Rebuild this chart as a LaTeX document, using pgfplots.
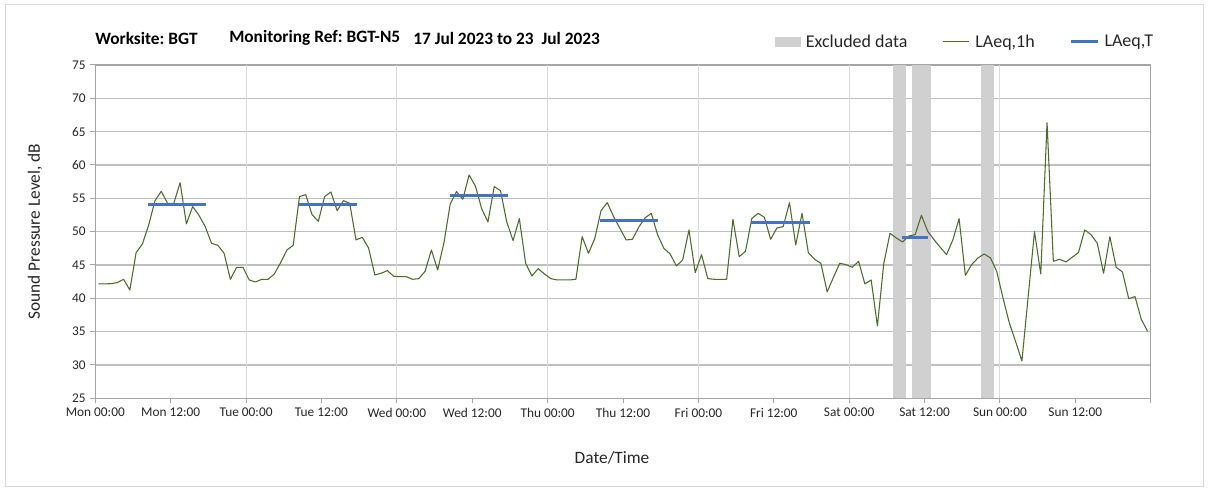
\documentclass[border=0pt]{standalone}
\usepackage{fontspec}
\setmainfont{Carlito}
\usepackage{pgfplots}
\pgfplotsset{compat=1.18}
\usepackage{pgfplotstable}
\definecolor{lineG}{HTML}{4F6A2D}
\definecolor{blueT}{HTML}{4472C4}
\definecolor{excl}{HTML}{D0D0D0}
\definecolor{gridH}{HTML}{BFBFBF}
\definecolor{gridV}{HTML}{D9D9D9}
\definecolor{axisC}{HTML}{A6A6A6}
\definecolor{txt}{HTML}{262626}

\pgfplotstableread{
h dB
0.5 42.15
1.5 42.15
2.5 42.2
3.5 42.35
4.5 42.85
5.5 41.25
6.5 46.85
7.5 48.15
8.5 51.0
9.5 54.65
10.5 56.05
11.5 54.25
12.5 54.25
13.5 57.35
14.5 51.15
15.5 53.75
16.5 52.45
17.5 50.75
18.5 48.25
19.5 47.95
20.5 46.75
21.5 42.85
22.5 44.65
23.5 44.65
24.5 42.75
25.5 42.45
26.5 42.85
27.5 42.85
28.5 43.65
29.5 45.35
30.5 47.25
31.5 47.95
32.5 55.25
33.5 55.55
34.5 52.55
35.5 51.55
36.5 55.25
37.5 55.95
38.5 53.15
39.5 54.65
40.5 54.25
41.5 48.75
42.5 49.15
43.5 47.55
44.5 43.5
45.5 43.75
46.5 44.15
47.5 43.3
48.5 43.25
49.5 43.25
50.5 42.85
51.5 42.95
52.5 44.05
53.5 47.25
54.5 44.25
55.5 48.35
56.5 54.15
57.5 56.0
58.5 54.85
59.5 58.5
60.5 56.85
61.5 53.45
62.5 51.45
63.5 56.75
64.5 56.15
65.5 51.45
66.5 48.65
67.5 51.95
68.5 45.25
69.5 43.35
70.5 44.45
71.5 43.65
72.5 42.95
73.5 42.75
74.5 42.75
75.5 42.75
76.5 42.85
77.5 49.25
78.5 46.75
79.5 48.95
80.5 53.15
81.5 54.35
82.5 52.25
83.5 50.5
84.5 48.75
85.5 48.85
86.5 50.65
87.5 52.05
88.5 52.75
89.5 49.55
90.5 47.5
91.5 46.65
92.5 44.85
93.5 45.75
94.5 50.25
95.5 43.85
96.5 46.55
97.5 42.95
98.5 42.85
99.5 42.85
100.5 42.85
101.5 51.85
102.5 46.25
103.5 47.05
104.5 51.95
105.5 52.75
106.5 52.15
107.5 48.85
108.5 50.55
109.5 50.75
110.5 54.35
111.5 48.0
112.5 52.75
113.5 46.85
114.5 45.85
115.5 45.25
116.5 40.95
117.5 43.15
118.5 45.25
119.5 45.05
120.5 44.65
121.5 45.55
122.5 42.15
123.5 42.75
124.5 35.85
125.5 45.15
126.5 49.75
127.5 49.05
128.5 48.45
129.5 49.35
130.5 49.55
131.5 52.45
132.5 50.05
133.5 48.8
134.5 47.65
135.5 46.55
136.5 48.75
137.5 51.95
138.5 43.45
139.5 45.05
140.5 46.05
141.5 46.65
142.5 46.05
143.5 44.0
144.5 40.0
145.5 36.3
146.5 33.5
147.5 30.6
148.5 40.3
149.5 50.0
150.5 43.65
151.5 66.35
152.5 45.55
153.5 45.85
154.5 45.45
155.5 46.15
156.5 46.85
157.5 50.25
158.5 49.55
159.5 48.25
160.5 43.75
161.5 49.25
162.5 44.65
163.5 43.95
164.5 39.95
165.5 40.25
166.5 36.85
167.5 35.05
}\laeq

\begin{document}
\frenchspacing
\begin{tikzpicture}[x=0.75pt,y=0.75pt]
\path[use as bounding box] (0,0) rectangle (1208,492);
\draw[gridV, line width=0.75pt] (5,5) rectangle (1203,487);
\begin{axis}[
  at={(71.475pt,70.275pt)}, anchor=south west,
  scale only axis, width=791.55pt, height=250pt,
  xmin=0, xmax=168, ymin=25, ymax=75,
  xtick={0,12,...,168},
  xticklabels={Mon 00:00, Mon 12:00, Tue 00:00, Tue 12:00, Wed 00:00, Wed 12:00, Thu 00:00, Thu 12:00, Fri 00:00, Fri 12:00, Sat 00:00, Sat 12:00, Sun 00:00, Sun 12:00, {}},
  extra x ticks={24,48,72,96,120,144},
  extra x tick labels={},
  ytick={25,30,...,75},
  ymajorgrids=true,
  major grid style={gridH, line width=0.9pt},
  extra x tick style={xmajorgrids=true, major tick length=0pt, major grid style={gridV, line width=0.75pt}},
  tick align=outside,
  major tick length=3.75pt,
  tick style={axisC, line width=0.75pt},
  axis line style={axisC, line width=0.9pt},
  tick pos=left,
  /pgf/number format/assume math mode=true,
  ticklabel style={font=\fontsize{10}{12}\selectfont, text=txt},
  xlabel={Date/Time},
  ylabel={Sound Pressure Level, dB},
  every axis x label/.style={at={(axis description cs:0.4896,-0.18)}, anchor=center, font=\fontsize{13}{15}\selectfont, text=txt},
  every axis y label/.style={at={(axis description cs:-0.0571,0.5)}, rotate=90, anchor=center, font=\fontsize{13}{15}\selectfont, text=txt},
  legend style={at={(axis description cs:0.644,1.069)}, anchor=west, draw=none, fill=none,
    font=\fontsize{13.5}{15}\selectfont, text=txt, inner sep=0pt,
    /tikz/every odd column/.append style={column sep=2pt},
    /tikz/every even column/.append style={column sep=24pt}},
  legend columns=3,
  legend cell align=left,
  clip=true,
]
\addplot[fill=excl, draw=none, legend image code/.code={\fill[excl] (0pt,-4pt) rectangle (19pt,4pt);}] coordinates {(127,75) (129,75)} \closedcycle;
\addlegendentry{Excluded data}
\addplot[fill=excl, draw=none, forget plot] coordinates {(130,75) (133,75)} \closedcycle;
\addplot[fill=excl, draw=none, forget plot] coordinates {(141,75) (143,75)} \closedcycle;
\addplot[lineG, line width=0.8pt, line join=round, legend image code/.code={\draw[lineG, line width=0.8pt] (0pt,0pt) -- (20pt,0pt);}] table[x=h, y=dB] {\laeq};
\addlegendentry{LAeq,1h}
\addplot[blueT, line width=2.3pt, unbounded coords=jump, legend image code/.code={\draw[blueT, line width=2.3pt] (0pt,0pt) -- (20pt,0pt);}] coordinates {
 (8.4,54.1) (17.6,54.1) (25,nan)
 (32.4,54.1) (41.6,54.1) (50,nan)
 (56.4,55.45) (65.7,55.45) (75,nan)
 (80.3,51.7) (89.6,51.7) (98,nan)
 (104.4,51.4) (113.7,51.4) (120,nan)
 (128.4,49.15) (132.6,49.15)
};
\addlegendentry{LAeq,T}
\end{axis}
\begin{scope}[every node/.style={anchor=west, font=\bfseries\fontsize{13}{15}\selectfont, text=black, inner sep=0pt}]
\node at (95,454) {Worksite: BGT};
\node at (229,454) {Monitoring Ref: BGT-N5};
\node at (413,454) {17 Jul 2023 to 23\ \ Jul 2023};
\end{scope}
\end{tikzpicture}
\end{document}
